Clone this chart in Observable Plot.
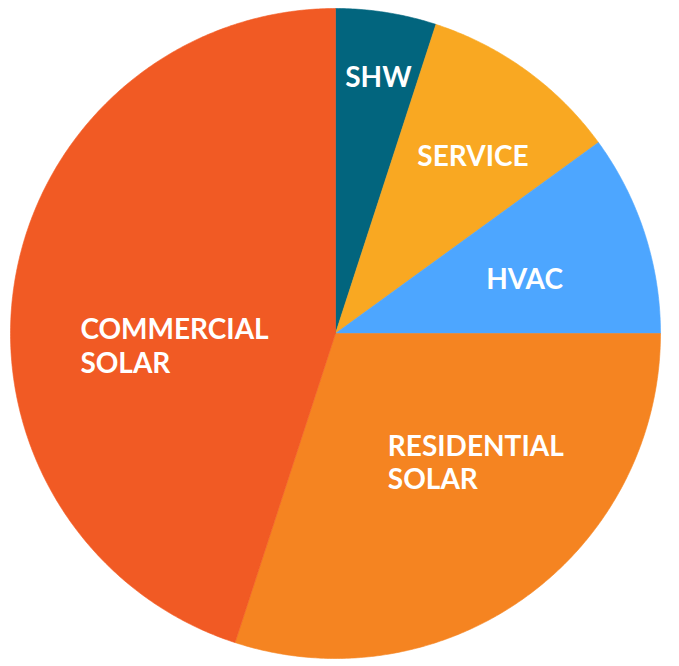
<!DOCTYPE html>
<html><head><meta charset="utf-8">
<script src="https://cdn.jsdelivr.net/npm/d3@7"></script>
<script src="https://cdn.jsdelivr.net/npm/@observablehq/plot@0.6"></script>
<style>body{margin:0;background:#fff}</style>
</head><body><div id="chart"></div>
<script>
// Data (clockwise from 12 o'clock)
const categories = ["SHW", "SERVICE", "HVAC", "RESIDENTIAL\nSOLAR", "COMMERCIAL\nSOLAR"];
const shares = [5, 10, 10, 30, 45];
const colors = ["#02657E", "#F9A822", "#4DA6FF", "#F58421", "#F15A24"];

// Layout of labels (radius fraction, angle offset in degrees from slice middle, anchor)
const labelRadius = [0.80, 0.69, 0.605, 0.43, 0.786];
const labelTurn = [0.5, 1.8, 2.1, 14, -11.9];
const labelAnchor = ["middle", "middle", "middle", "start", "start"];

const total = d3.sum(shares);
let acc = 0;
const slices = categories.map((c, i) => {
  const a0 = acc / total * 2 * Math.PI; acc += shares[i];
  const a1 = acc / total * 2 * Math.PI;
  return {c, a0, a1, i};
});
const pts = [];
for (const s of slices) {
  pts.push({c: s.c, x: 0, y: 0});
  const n = Math.max(2, Math.ceil((s.a1 - s.a0) / (Math.PI / 360)));
  for (let k = 0; k <= n; k++) {
    const a = s.a0 + (s.a1 - s.a0) * k / n;
    pts.push({c: s.c, x: Math.sin(a), y: Math.cos(a)});
  }
  pts.push({c: s.c, x: 0, y: 0});
}
const labels = slices.map(s => {
  const a = (s.a0 + s.a1) / 2 + labelTurn[s.i] * Math.PI / 180;
  const r = labelRadius[s.i];
  return {text: s.c, x: r * Math.sin(a), y: r * Math.cos(a), anchor: labelAnchor[s.i]};
});

const textOpts = {x: "x", y: "y", text: "text", fill: "white", fontSize: 28,
  fontFamily: "Lato, 'Open Sans', sans-serif", fontWeight: 700, lineHeight: 1.18, lineAnchor: "middle", dy: -1};

const chart = Plot.plot({
  width: 679, height: 666,
  marginLeft: 10, marginRight: 19, marginTop: 8, marginBottom: 8,
  x: {domain: [-1, 1], axis: null},
  y: {domain: [-1, 1], axis: null},
  color: {domain: categories, range: colors},
  marks: [
    Plot.line(pts, {x: "x", y: "y", z: "c", fill: "c", stroke: "c", strokeWidth: 0.6, curve: "linear"}),
    Plot.text(labels.filter(d => d.anchor === "middle"), {...textOpts, textAnchor: "middle"}),
    Plot.text(labels.filter(d => d.anchor === "start"), {...textOpts, textAnchor: "start"})
  ]
});
document.getElementById("chart").append(chart);
</script>
</body></html>
